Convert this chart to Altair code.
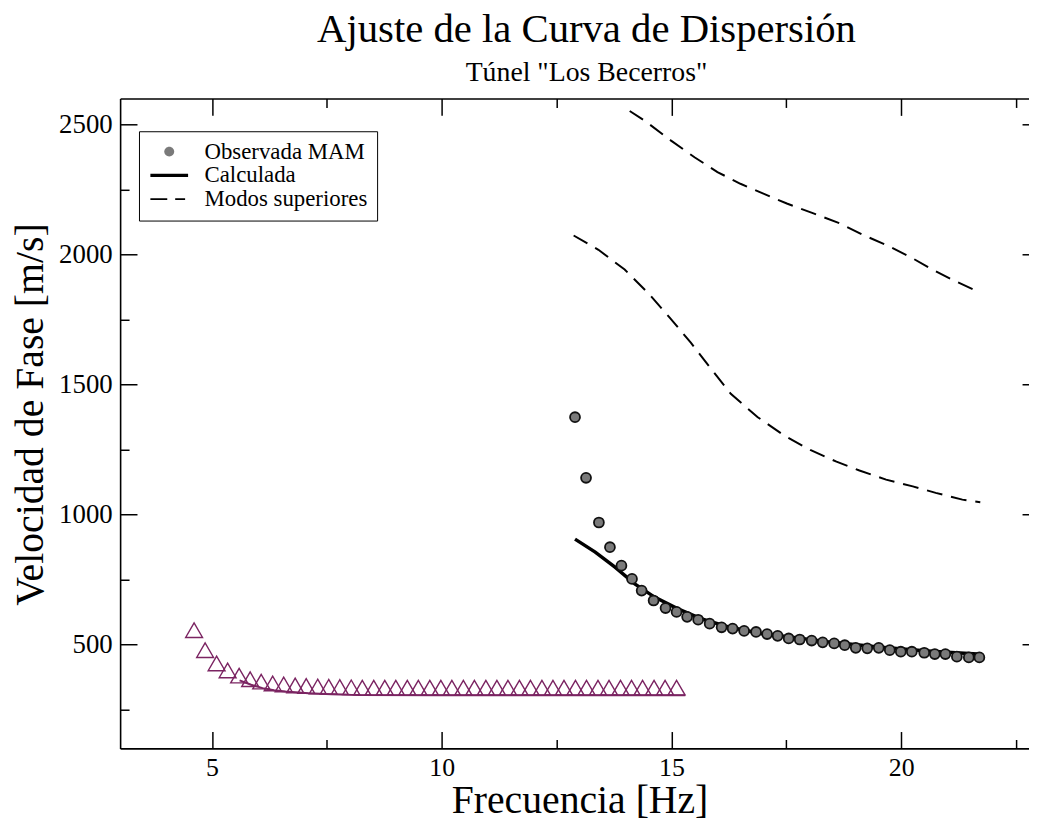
import altair as alt
import pandas as pd

FONT = "Liberation Serif"
PURPLE = "#7b2462"

# ---------------- data ----------------
tri_f = [4.61, 4.85, 5.10, 5.34, 5.59, 5.83, 6.07, 6.32, 6.56, 6.81, 7.05, 7.30, 7.54, 7.78,
         8.03, 8.27, 8.52, 8.76, 9.00, 9.25, 9.49, 9.74, 9.98, 10.22, 10.47, 10.71, 10.96,
         11.20, 11.44, 11.69, 11.93, 12.18, 12.42, 12.66, 12.91, 13.15, 13.40, 13.64, 13.89,
         14.13, 14.37, 14.62, 14.86, 15.11]
tri_v = [555, 478, 427, 400, 380, 366, 357, 350, 346, 342, 340, 338, 337, 336, 335, 334,
         334, 334, 334, 334, 334, 334, 334, 334, 334, 334, 334, 334, 334, 334, 334, 334,
         334, 334, 334, 334, 334, 334, 334, 334, 334, 334, 334, 334]

calc2_f = [5.6, 5.85, 6.1, 6.35, 6.6, 7.1, 7.6, 8.2, 10.0, 12.0, 15.3]
calc2_v = [362, 345, 332, 324, 319, 312, 308, 305, 304, 304, 304]

obs_f = [12.90, 13.14, 13.42, 13.66, 13.91, 14.14, 14.35, 14.61, 14.87, 15.11, 15.34, 15.58,
         15.83, 16.09, 16.33, 16.58, 16.84, 17.08, 17.31, 17.55, 17.79, 18.05, 18.29, 18.54,
         18.77, 19.01, 19.26, 19.51, 19.75, 19.99, 20.23, 20.50, 20.73, 20.96, 21.21, 21.47,
         21.70]
obs_v = [1374, 1141, 969, 874, 803, 752, 707, 669, 640, 625, 606, 595, 580, 566, 561, 552,
         548, 540, 533, 523, 519, 515, 508, 504, 497, 487, 485, 487, 478, 472, 472, 468, 463,
         463, 453, 450, 450]

calc_f = [12.90, 13.34, 13.77, 14.20, 14.63, 15.14, 15.64, 16.22, 16.94, 17.58, 18.50, 19.50,
          20.50, 21.00, 21.75]
calc_v = [905, 855, 797, 733, 682, 637, 599, 568, 542, 529, 508, 490, 476, 470, 462]

m1_f = [12.87, 13.41, 13.98, 14.49, 14.96, 15.42, 15.86, 16.29, 16.87, 17.44, 18.02, 18.59,
        19.09, 19.67, 20.25, 20.75, 21.33, 21.72]
m1_v = [2073, 2018, 1942, 1852, 1757, 1661, 1560, 1464, 1375, 1305, 1248, 1203, 1169, 1134,
        1108, 1083, 1057, 1047]
m2_f = [14.09, 14.42, 14.99, 15.50, 16.00, 16.50, 17.00, 17.51, 18.09, 18.66, 19.17, 19.67,
        20.18, 20.68, 21.18, 21.69]
m2_v = [2552, 2514, 2438, 2374, 2317, 2272, 2234, 2196, 2158, 2120, 2075, 2037, 1992, 1942,
        1897, 1856]

legend_names = ["Observada MAM", "Calculada", "Modos superiores"]
x_major = [5, 10, 15, 20]
x_minor = [7.5, 12.5, 17.5, 22.5]
y_major = [500, 1000, 1500, 2000, 2500]
y_minor = [250, 750, 1250, 1750, 2250]

# ---------------- tables ----------------
tri_df = pd.DataFrame({"f": tri_f, "v": tri_v})
calc2_df = pd.DataFrame({"f": calc2_f, "v": calc2_v})
obs_df = pd.DataFrame({"f": obs_f, "v": obs_v, "serie": "Observada MAM"})
calc_df = pd.DataFrame({"f": calc_f, "v": calc_v})
modes_df = pd.concat([
    pd.DataFrame({"f": m1_f, "v": m1_v, "modo": "1"}),
    pd.DataFrame({"f": m2_f, "v": m2_v, "modo": "2"}),
])

X_SCALE = alt.Scale(domain=[3, 22.78], nice=False, zero=False)
Y_SCALE = alt.Scale(domain=[100, 2600], nice=False, zero=False)


def X(axis):
    return alt.X("f:Q", scale=X_SCALE, axis=axis)


def Y(axis):
    return alt.Y("v:Q", scale=Y_SCALE, axis=axis)


def tick_axis(orient, values, size):
    return alt.Axis(orient=orient, values=values, ticks=True, tickSize=size,
                    tickColor="black", tickWidth=1.5, offset=-size, labels=False,
                    domain=False, grid=False, title=None)


def frame_axis(orient):
    return alt.Axis(orient=orient, ticks=False, labels=False, domain=True,
                    domainColor="black", domainWidth=1.6, grid=False, title=None)


x_label_axis = alt.Axis(orient="bottom", values=x_major, format="d", ticks=False, domain=True,
                        domainColor="black", domainWidth=1.6, grid=False,
                        labelFont=FONT, labelFontSize=26, labelColor="black",
                        labelPadding=6, title="Frecuencia [Hz]", titleFont=FONT,
                        titleFontSize=40, titleFontWeight="normal", titleColor="black",
                        titlePadding=1, titleX=463)
y_label_axis = alt.Axis(orient="left", values=y_major, format="d", ticks=False, domain=True,
                        domainColor="black", domainWidth=1.6, grid=False,
                        labelFont=FONT, labelFontSize=27, labelColor="black",
                        labelPadding=8, title="Velocidad de Fase [m/s]", titleFont=FONT,
                        titleFontSize=40, titleFontWeight="normal", titleColor="black",
                        titlePadding=8, titleY=318)

modes = alt.Chart(modes_df).mark_line(color="black", strokeWidth=2, strokeDash=[16, 9]).encode(
    x=X(frame_axis("top")), y=Y(tick_axis("right", y_major, 7)), detail="modo:N")

calc = alt.Chart(calc_df).mark_line(color="black", strokeWidth=3.5).encode(
    x=X(tick_axis("top", x_major, 17)), y=Y(None))

calc2 = alt.Chart(calc2_df).mark_line(color=PURPLE, strokeWidth=2).encode(
    x=X(tick_axis("top", x_minor, 9)), y=Y(tick_axis("left", y_minor, 9)))

tri = alt.Chart(tri_df).mark_point(shape="triangle-up", size=289, filled=False, color=PURPLE,
                                   strokeWidth=1.4, opacity=1).encode(
    x=X(x_label_axis), y=Y(y_label_axis))

obs = alt.Chart(obs_df).mark_point(shape="circle", size=100, filled=True, fill="#7a7a7a",
                                   stroke="#111111", strokeWidth=1.8, opacity=1).encode(
    x=X(tick_axis("bottom", x_major, 17)), y=Y(tick_axis("left", y_major, 17)))

# legend built from the three series names (no marks drawn)
circle_path = "M1,-0.5A0.5,0.5,0,1,1,1,0.5A0.5,0.5,0,1,1,1,-0.5Z"
solid_path = "M-0.9,-0.17L2.9,-0.17L2.9,0.17L-0.9,0.17Z"
dash_path = "M-0.9,-0.09L0.8,-0.09L0.8,0.09L-0.9,0.09ZM1.6,-0.09L2.6,-0.09L2.6,0.09L1.6,0.09Z"

legend_def = alt.Legend(orient="none", legendX=19, legendY=33, title=None, labelFont=FONT,
                        labelFontSize=23, labelColor="black", labelLimit=400,
                        strokeColor="black", fillColor="white", padding=9, symbolSize=400,
                        labelOffset=34, rowPadding=0, symbolStrokeWidth=1.5,
                        symbolStrokeColor="black")

leg = alt.Chart(obs_df).transform_filter("false").mark_point(
    filled=True, stroke="black", strokeWidth=1.5, opacity=1, size=400).encode(
    x=X(tick_axis("bottom", x_minor, 9)), y=Y(None),
    shape=alt.Shape("serie:N", scale=alt.Scale(domain=legend_names,
                                               range=[circle_path, solid_path, dash_path]),
                    legend=legend_def),
    fill=alt.Fill("serie:N", scale=alt.Scale(domain=legend_names,
                                             range=["#7a7a7a", "black", "black"]),
                  legend=legend_def))

chart = alt.layer(modes, calc, calc2, tri, obs, leg).resolve_axis(
    x="independent", y="independent").properties(
    width=916, height=655,
    padding={"left": 113, "top": 88, "right": 0, "bottom": 78},
    autosize=alt.AutoSizeParams(type="none"),
    background="white",
    title=alt.TitleParams(text="Ajuste de la Curva de Dispersión",
                          subtitle='Túnel "Los Becerros"', font=FONT, fontSize=41,
                          fontWeight="normal", color="black", subtitleFont=FONT,
                          subtitleFontSize=28, subtitleColor="black", subtitlePadding=8,
                          anchor="middle", offset=10, dx=12),
).configure_view(strokeWidth=0)

chart.save("out.html", embed_options={"renderer": "svg", "actions": False})
